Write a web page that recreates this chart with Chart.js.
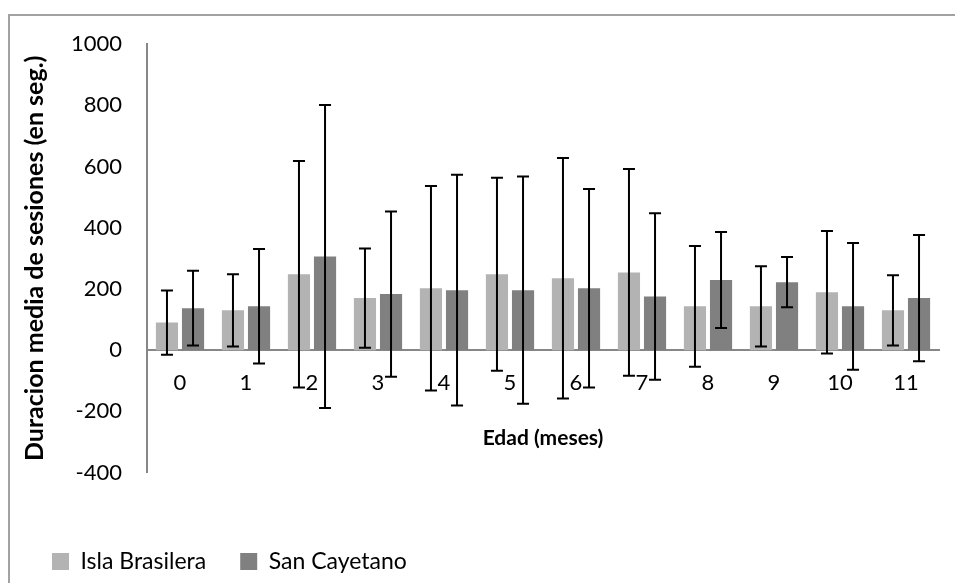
<!DOCTYPE html>
<html>
<head>
<meta charset="utf-8">
<script src="https://cdn.jsdelivr.net/npm/chart.js@4.4.1/dist/chart.umd.min.js"></script>
<style>
  html, body { margin: 0; padding: 0; background: #fff; }
  #marco { position: relative; width: 955px; height: 583px; overflow: hidden; }
  #borde { position: absolute; left: 8px; top: 14px; width: 980px; height: 600px; border: 2px solid #a3a3a3; }
  #grafico { position: absolute; left: 0; top: 0; }
</style>
</head>
<body>
<div id="marco">
  <div id="borde"></div>
  <canvas id="grafico" width="955" height="583"></canvas>
</div>
<script>
var categorias = ['0','1','2','3','4','5','6','7','8','9','10','11'];
var islaMedia = [90, 130, 248, 170, 202, 248, 235, 254, 143, 143, 189, 130];
var islaDesv  = [105, 118, 370, 162, 334, 315, 393, 338, 197, 131, 200, 115];
var sanMedia  = [137, 143, 306, 183, 196, 196, 202, 175, 229, 222, 143, 170];
var sanDesv   = [122, 187, 495, 270, 377, 371, 324, 272, 157, 82, 207, 206];
var yMin = -400, yMax = 1000, yPaso = 200;

// barras de error (media +/- desvio)
var barrasError = {
    id: 'barrasError',
    afterDatasetsDraw: function (chart) {
        var ctx = chart.ctx;
        var y = chart.scales.y;
        chart.data.datasets.forEach(function (ds, i) {
            var meta = chart.getDatasetMeta(i);
            meta.data.forEach(function (bar, j) {
                var m = ds.data[j], sd = ds.desv[j];
                var arriba = y.getPixelForValue(m + sd);
                var abajo = y.getPixelForValue(m - sd);
                ctx.save();
                ctx.strokeStyle = '#000';
                ctx.lineWidth = 2;
                ctx.beginPath();
                ctx.moveTo(bar.x, arriba); ctx.lineTo(bar.x, abajo);
                ctx.moveTo(bar.x - 6, arriba); ctx.lineTo(bar.x + 6, arriba);
                ctx.moveTo(bar.x - 6, abajo); ctx.lineTo(bar.x + 6, abajo);
                ctx.stroke();
                ctx.restore();
            });
        });
    }
};

Chart.defaults.font.family = 'Lato';
Chart.defaults.color = '#000';

new Chart('grafico', {
    type: 'bar',
    data: {
        labels: categorias,
        datasets: [
            {
                label: 'Isla Brasilera',
                data: islaMedia,
                desv: islaDesv,
                backgroundColor: '#b3b3b3',
                barPercentage: 0.85,
                categoryPercentage: 0.79
            },
            {
                label: 'San Cayetano',
                data: sanMedia,
                desv: sanDesv,
                backgroundColor: '#808080',
                barPercentage: 0.85,
                categoryPercentage: 0.79
            }
        ]
    },
    options: {
        responsive: false,
        animation: false,
        layout: { padding: { left: 18, right: 16, top: 44, bottom: 0 } },
        scales: {
            x: {
                position: { y: 0 },
                grid: { display: false, drawTicks: false },
                border: { color: '#878787', width: 2 },
                ticks: { padding: 20, font: { size: 22 } },
                title: {
                    display: true,
                    text: 'Edad (meses)',
                    font: { size: 21, weight: 'bold' },
                    padding: { top: 9, bottom: 0 }
                }
            },
            y: {
                min: yMin,
                max: yMax,
                grid: { display: false, drawTicks: false },
                border: { color: '#878787', width: 2 },
                ticks: {
                    stepSize: yPaso,
                    padding: 25,
                    font: { size: 22 },
                    callback: function (v) { return String(v); }
                },
                title: {
                    display: true,
                    text: 'Duracion media de sesiones (en seg.)',
                    font: { size: 25, weight: 'bold' },
                    padding: { top: 2, bottom: 0 }
                },
                afterFit: function (s) { s.width = 129; }
            }
        },
        plugins: {
            tooltip: { enabled: false },
            legend: {
                position: 'bottom',
                align: 'start',
                title: { display: true, text: '', padding: { top: 0, bottom: 29 } },
                labels: {
                    boxWidth: 17,
                    boxHeight: 17,
                    padding: 34,
                    font: { size: 23 }
                }
            }
        }
    },
    plugins: [barrasError]
});
</script>
</body>
</html>
